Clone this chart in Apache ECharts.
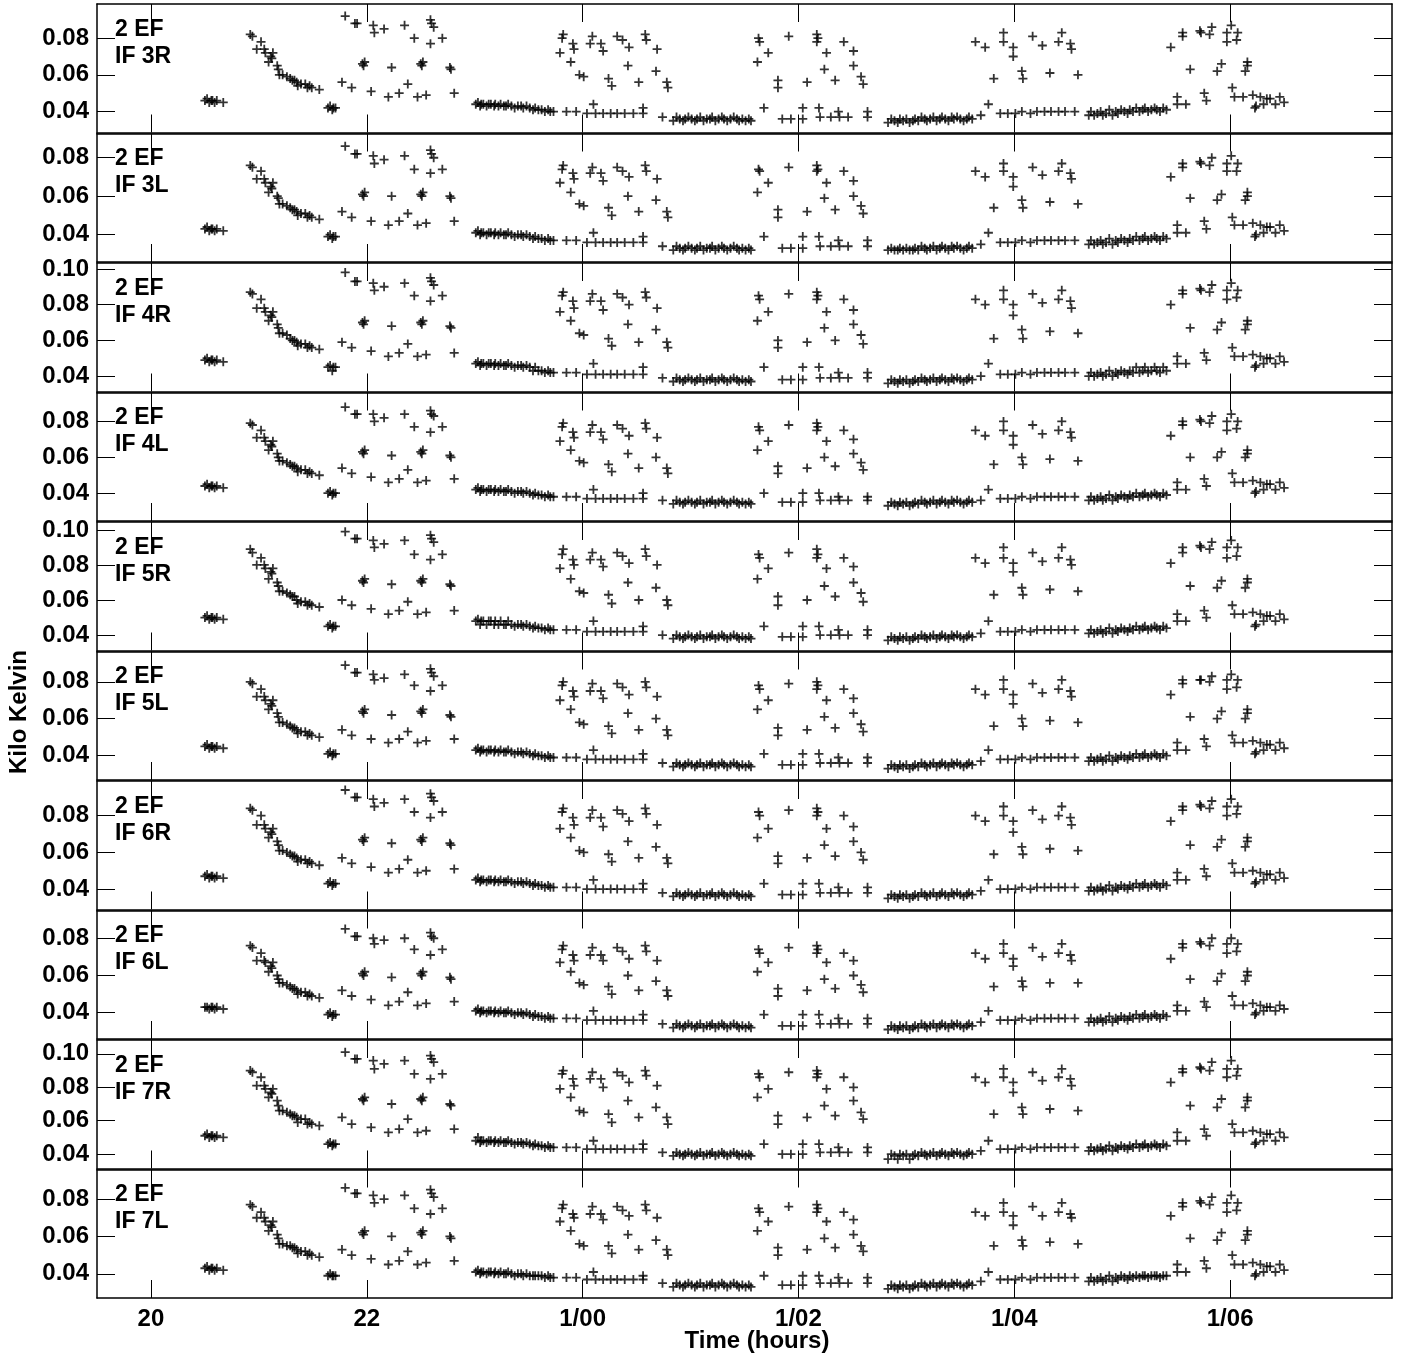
<!DOCTYPE html>
<html>
<head>
<meta charset="utf-8">
<script src="https://cdn.jsdelivr.net/npm/echarts@6/dist/echarts.min.js"></script>
<style>
html,body{margin:0;padding:0;background:#fff;}
#chart{width:1401px;height:1357px;}
</style>
</head>
<body>
<div id="chart"></div>
<script>
// Observation times (hours; 24+ = next day)
const hours = [
20.50,20.52,20.54,20.56,20.57,20.59,20.61,20.67,
20.92,20.94,20.98,21.02,21.05,21.06,21.09,21.11,21.12,21.13,21.17,21.18,21.19,21.22,21.26,21.29,21.31,21.33,21.35,21.36,21.39,21.43,21.45,21.47,21.49,21.56,
21.64,21.66,21.68,21.69,21.71,
21.80,21.89,21.91,22.06,22.07,22.16,22.35,22.44,22.59,22.60,22.62,22.59,22.70,21.96,21.97,21.98,22.23,22.50,22.51,22.52,22.77,22.78,21.77,21.86,22.04,22.20,22.30,22.38,22.47,22.55,22.81,
23.01,23.03,23.05,23.06,23.08,23.11,23.13,23.15,23.18,23.19,23.22,23.24,23.27,23.29,23.31,23.34,23.37,23.40,23.43,23.45,23.48,23.51,23.54,23.56,23.59,23.62,23.65,23.68,23.70,23.73,
23.85,23.94,24.04,24.10,24.12,24.19,24.26,24.32,24.39,24.47,24.56,24.56,
23.82,23.81,23.91,23.92,23.79,23.89,23.97,24.01,24.09,24.07,24.17,24.19,24.24,24.27,24.32,24.37,24.43,24.42,24.52,24.58,24.59,24.69,24.68,24.78,24.79,
24.74,24.84,24.87,24.90,24.93,24.95,24.98,25.01,25.04,25.06,25.09,25.12,25.15,25.18,25.20,25.23,25.26,25.29,25.31,25.34,25.37,25.40,25.43,25.45,25.48,25.51,25.54,25.56,
25.63,25.64,25.72,25.62,25.81,25.81,25.91,26.08,26.17,26.17,26.18,26.26,26.24,26.34,26.42,26.51,26.51,26.58,26.60,
25.68,25.85,25.93,26.04,26.04,26.19,26.20,26.30,26.37,26.38,26.46,26.64,26.64,
26.83,26.86,26.89,26.92,26.94,26.97,27.00,27.03,27.06,27.08,27.11,27.14,27.17,27.19,27.22,27.25,27.28,27.31,27.33,27.36,27.39,27.42,27.44,27.47,27.50,27.53,27.56,27.58,27.61,27.69,27.76,
27.64,27.73,27.90,27.90,27.99,27.99,27.81,28.07,28.08,28.17,28.26,28.33,28.44,28.41,28.52,28.53,28.59,
27.87,27.94,28.01,28.07,28.15,28.21,28.28,28.34,28.41,28.47,28.56,
28.69,28.71,28.74,28.77,28.80,28.82,28.85,28.88,28.91,28.94,28.96,28.99,29.02,29.05,29.07,29.10,29.13,29.16,29.19,29.21,29.24,29.27,29.30,29.32,29.35,29.38,29.41,
29.51,29.51,29.59,29.76,29.78,29.45,29.56,29.56,29.72,29.73,29.83,29.81,30.01,29.97,29.97,30.07,30.06,29.63,29.92,29.88,30.16,30.16,30.14,30.02,30.04,30.12,30.21,30.28,30.24,30.23,30.31,30.37,30.42,30.46,30.50,30.34
];

// Values in Kelvin (axis shows Kilo Kelvin)
const k3R = [
46,47,45,46,46,45,46,45,
82,81,74,78,74,72,67,70,69,72,65,63,60,60,59,58,57,57,56,54,55,55,53,54,53,52,
42,43,41,42,42,
92,88,88,87,83,85,87,80,90,88,86,77,80,66,65,67,64,66,65,67,64,63,56,53,51,48,50,55,48,49,50,
44,45,43,44,44,43,44,44,43,44,43,44,43,43,44,43,42,43,43,42,43,42,41,42,41,41,40,41,40,40,
40,40,39,44,39,39,39,39,39,39,39,42,
82,80,77,74,72,67,60,59,81,77,77,73,58,54,81,79,75,65,56,82,79,74,62,56,53,
37,35,37,36,35,36,37,36,35,36,37,35,36,36,37,35,36,37,36,35,36,37,36,35,36,35,36,35,
80,78,72,67,57,53,81,56,82,78,80,72,63,57,78,73,65,59,55,
42,36,36,36,42,42,37,37,40,37,37,40,37,
34,36,35,34,36,35,36,34,35,36,35,37,36,35,36,37,35,36,37,36,35,37,36,37,36,35,36,37,36,38,44,
78,75,83,78,75,70,58,62,58,81,76,61,83,78,77,74,60,
39,39,39,40,39,40,40,40,40,40,40,
38,40,38,39,40,38,39,41,38,40,39,41,40,39,41,40,42,40,41,42,40,41,42,41,40,42,41,
48,44,44,50,46,75,83,81,84,83,86,82,87,83,78,83,79,63,66,62,67,65,62,53,48,48,49,48,43,42,44,47,44,48,45,47
];
const k3L = [
43,44,42,43,43,42,43,42,
76,75,69,73,69,67,62,65,64,67,60,59,56,56,55,54,53,53,52,50,51,51,49,50,49,48,
39,40,38,39,39,
86,82,82,81,77,79,81,74,84,82,80,72,74,61,60,62,60,61,60,62,60,59,52,49,47,45,47,51,45,46,47,
41,42,40,41,41,40,41,41,40,41,40,41,40,40,41,40,39,40,40,39,40,39,38,39,38,38,37,38,37,37,
37,37,36,41,36,36,36,36,36,36,36,39,
76,74,72,69,67,62,56,55,75,72,72,68,54,50,75,73,70,60,52,76,73,69,58,52,49,
34,32,34,33,32,33,34,33,32,33,34,32,33,33,34,32,33,34,33,32,33,34,33,32,33,32,33,32,
74,73,67,62,53,49,75,52,76,73,74,67,59,53,73,68,60,55,51,
39,33,33,33,39,39,34,34,37,34,34,37,34,
32,33,32,32,33,32,33,32,32,33,32,34,33,32,33,34,32,33,34,33,32,34,33,34,33,32,33,34,33,35,41,
73,70,77,73,70,65,54,58,54,75,71,57,77,73,72,69,56,
36,36,36,37,36,37,37,37,37,37,37,
35,37,35,36,37,35,36,38,35,37,36,38,37,36,38,37,39,37,38,39,37,38,39,38,37,39,38,
45,41,41,47,43,70,77,75,78,77,80,76,81,77,73,77,73,59,61,58,62,60,58,49,45,45,46,45,40,39,41,44,41,45,42,44
];
const k4R = [
49,50,48,49,49,48,49,48,
87,86,78,83,78,76,71,74,73,76,69,67,64,64,63,61,60,60,59,57,58,58,56,57,56,55,
45,46,43,45,45,
98,93,93,92,88,90,92,85,95,93,91,82,85,70,69,71,68,70,69,71,68,67,59,56,54,51,53,58,51,52,53,
47,48,46,47,47,46,47,47,46,47,46,47,46,46,47,46,45,46,46,45,46,45,43,45,43,43,42,43,42,42,
42,42,41,47,41,41,41,41,41,41,41,45,
87,85,82,78,76,71,64,63,86,82,82,77,61,57,86,84,80,69,59,87,84,78,66,59,56,
39,37,39,38,37,38,39,38,37,38,39,37,38,38,39,37,38,39,38,37,38,39,38,37,38,37,38,37,
85,83,76,71,60,56,86,59,87,83,85,76,67,60,83,77,69,63,58,
45,38,38,38,45,45,39,39,42,39,39,42,39,
36,38,37,36,38,37,38,36,37,38,37,39,38,37,38,39,37,38,39,38,37,39,38,39,38,37,38,39,38,40,47,
83,80,88,83,80,74,61,66,61,86,81,65,88,83,82,78,64,
41,41,41,42,41,42,42,42,42,42,42,
40,42,40,41,42,40,41,43,40,42,41,43,42,41,43,42,45,42,43,45,42,43,45,43,42,45,43,
51,47,47,53,49,80,88,86,89,88,91,87,92,88,83,88,84,67,70,66,71,69,66,56,51,51,52,51,46,45,47,50,47,51,48,50
];
const k4L = [
44,45,43,44,44,43,44,43,
79,78,71,75,71,69,64,67,66,69,62,60,58,58,57,56,55,55,54,52,53,53,51,52,51,50,
40,41,39,40,40,
88,84,84,84,80,82,84,77,86,84,83,74,77,63,62,64,61,63,62,64,61,60,54,51,49,46,48,53,46,47,48,
42,43,41,42,42,41,42,42,41,42,41,42,41,41,42,41,40,41,41,40,41,40,39,40,39,39,38,39,38,38,
38,38,37,42,37,37,37,37,37,37,37,40,
79,77,74,71,69,64,58,57,78,74,74,70,56,52,78,76,72,62,54,79,76,71,60,54,51,
36,34,36,35,34,35,36,35,34,35,36,34,35,35,36,34,35,36,35,34,35,36,35,34,35,34,35,34,
77,75,69,64,55,51,78,54,79,75,77,69,60,55,75,70,62,57,53,
40,35,35,35,40,40,36,36,38,36,36,38,36,
33,35,34,33,35,34,35,33,34,35,34,36,35,34,35,36,34,35,36,35,34,36,35,36,35,34,35,36,35,36,42,
75,72,80,75,72,67,56,60,56,78,73,59,80,75,74,71,58,
37,37,37,38,37,38,38,38,38,38,38,
36,38,36,37,38,36,37,39,36,38,37,39,38,37,39,38,40,38,39,40,38,39,40,39,38,40,39,
46,42,42,48,44,72,80,78,81,80,83,79,84,80,75,80,76,60,63,60,64,62,60,51,46,46,47,46,41,40,42,45,42,46,43,45
];
const k5R = [
50,51,49,50,50,49,50,49,
89,87,80,84,80,78,72,76,75,78,70,68,65,65,64,63,62,62,60,58,59,59,57,58,57,56,
45,46,44,45,45,
99,95,95,94,90,92,94,86,97,95,93,83,86,71,70,72,69,71,70,72,69,68,60,57,55,52,54,59,52,53,54,
48,49,46,48,48,46,48,48,46,48,46,48,46,46,48,46,45,46,46,45,46,45,44,45,44,44,43,44,43,43,
43,43,42,48,42,42,42,42,42,42,42,45,
89,86,83,80,78,72,65,64,87,83,83,79,63,58,87,85,81,70,60,89,85,80,67,60,57,
40,38,40,39,38,39,40,39,38,39,40,38,39,39,40,38,39,40,39,38,39,40,39,38,39,38,39,38,
86,84,78,72,62,57,87,60,89,84,86,78,68,62,84,79,70,64,59,
45,39,39,39,45,45,40,40,43,40,40,43,40,
37,39,38,37,39,38,39,37,38,39,38,40,39,38,39,40,38,39,40,39,38,40,39,40,39,38,39,40,39,41,48,
84,81,90,84,81,76,63,67,63,87,82,66,90,84,83,80,65,
42,42,42,43,42,43,43,43,43,43,43,
41,43,41,42,43,41,42,44,41,43,42,44,43,42,44,43,45,43,44,45,43,44,45,44,43,45,44,
52,48,48,54,50,81,90,87,91,90,93,89,94,90,84,90,85,68,71,67,72,70,67,57,52,52,53,52,46,45,48,51,48,52,49,51
];
const k5L = [
45,46,44,45,45,44,45,44,
80,79,72,76,72,70,65,68,67,70,63,61,58,58,57,56,55,55,54,52,53,53,51,52,51,50,
41,42,40,41,41,
89,85,85,84,81,82,84,78,87,85,83,75,78,64,63,65,62,64,63,65,62,61,54,51,49,47,49,53,47,48,49,
43,44,42,43,43,42,43,43,42,43,42,43,42,42,43,42,41,42,42,41,42,41,40,41,40,40,39,40,39,39,
39,39,38,43,38,38,38,38,38,38,38,41,
80,78,75,72,70,65,58,57,79,75,75,71,56,52,79,77,73,63,54,80,77,72,60,54,51,
36,34,36,35,34,35,36,35,34,35,36,34,35,35,36,34,35,36,35,34,35,36,35,34,35,34,35,34,
78,76,70,65,55,51,79,54,80,76,78,70,61,55,76,71,63,57,53,
41,35,35,35,41,41,36,36,39,36,36,39,36,
33,35,34,33,35,34,35,33,34,35,34,36,35,34,35,36,34,35,36,35,34,36,35,36,35,34,35,36,35,37,43,
76,73,81,76,73,68,56,60,56,79,74,59,81,76,75,72,58,
38,38,38,39,38,39,39,39,39,39,39,
37,39,37,38,39,37,38,40,37,39,38,40,39,38,40,39,41,39,40,41,39,40,41,40,39,41,40,
47,43,43,49,45,73,81,79,81,81,83,80,84,81,76,81,77,61,64,60,65,63,60,51,47,47,48,47,42,41,43,46,43,47,44,46
];
const k6R = [
47,48,46,47,47,46,47,46,
84,83,75,80,75,73,68,71,70,73,66,64,61,61,60,59,58,58,57,55,56,56,54,55,54,53,
43,44,42,43,43,
94,90,90,89,85,87,89,82,92,90,88,79,82,67,66,68,65,67,66,68,65,64,57,54,52,49,51,56,49,50,51,
45,46,44,45,45,44,45,45,44,45,44,45,44,44,45,44,43,44,44,43,44,43,42,43,42,42,41,42,41,41,
41,41,40,45,40,40,40,40,40,40,40,43,
84,82,79,75,73,68,61,60,83,79,79,74,59,55,83,81,77,66,57,84,81,75,63,57,54,
38,36,38,37,36,37,38,37,36,37,38,36,37,37,38,36,37,38,37,36,37,38,37,36,37,36,37,36,
82,80,73,68,58,54,83,57,84,80,82,73,64,58,80,74,66,60,56,
43,37,37,37,43,43,38,38,41,38,38,41,38,
35,37,36,35,37,36,37,35,36,37,36,38,37,36,37,38,36,37,38,37,36,38,37,38,37,36,37,38,37,39,45,
80,77,85,80,77,71,59,63,59,83,78,62,85,80,79,75,61,
40,40,40,41,40,41,41,41,41,41,41,
39,41,39,40,41,39,40,42,39,41,40,42,41,40,42,41,43,41,42,43,41,42,43,42,41,43,42,
49,45,45,51,47,77,85,83,86,85,88,84,89,85,80,85,81,64,67,63,68,66,63,54,49,49,50,49,44,43,45,48,45,49,46,48
];
const k6L = [
43,43,42,43,43,42,43,42,
76,75,68,72,68,67,62,65,64,67,60,58,56,56,55,54,53,53,52,50,51,51,49,50,49,48,
39,40,38,39,39,
85,81,81,80,77,79,80,74,83,81,80,71,74,61,60,62,59,61,60,62,59,58,52,49,47,44,46,51,44,45,46,
41,42,40,41,41,40,41,41,40,41,40,41,40,40,41,40,39,40,40,39,40,39,38,39,38,38,37,38,37,37,
37,37,36,41,36,36,36,36,36,36,36,39,
76,74,71,68,67,62,56,55,75,71,71,68,54,50,75,73,69,60,52,76,73,68,57,52,49,
34,32,34,33,32,33,34,33,32,33,34,32,33,33,34,32,33,34,33,32,33,34,33,32,33,32,33,32,
74,72,67,62,53,49,75,52,76,72,74,67,58,53,72,68,60,55,51,
39,33,33,33,39,39,34,34,37,34,34,37,34,
31,33,32,31,33,32,33,31,32,33,32,34,33,32,33,34,32,33,34,33,32,34,33,34,33,32,33,34,33,35,41,
72,69,77,72,69,65,54,57,54,75,70,56,77,72,71,68,56,
36,36,36,37,36,37,37,37,37,37,37,
35,37,35,36,37,35,36,38,35,37,36,38,37,36,38,37,39,37,38,39,37,38,39,38,37,39,38,
44,41,41,46,43,69,77,75,78,77,80,76,80,77,72,77,73,58,61,57,62,60,57,49,44,44,45,44,40,39,41,43,41,44,42,43
];
const k7R = [
51,52,50,51,51,50,51,50,
90,89,81,86,81,79,74,77,76,79,72,69,66,66,65,64,63,63,62,59,61,61,58,59,58,57,
46,47,45,46,46,
101,97,97,96,91,94,96,88,99,97,95,85,88,73,72,74,70,73,72,74,70,69,62,58,56,53,55,61,53,54,55,
48,50,47,48,48,47,48,48,47,48,47,48,47,47,48,47,46,47,47,46,47,46,45,46,45,45,44,45,44,44,
44,44,43,48,43,43,43,43,43,43,43,46,
90,88,85,81,79,74,66,65,89,85,85,80,64,59,89,87,83,72,62,90,87,81,68,62,58,
41,39,41,40,39,40,41,40,39,40,41,39,40,40,41,39,40,41,40,39,40,41,40,39,40,39,40,39,
88,86,79,74,63,58,89,62,90,86,88,79,69,63,86,80,72,65,61,
46,40,40,40,46,46,41,41,44,41,41,44,41,
37,40,39,37,40,39,40,37,39,40,39,41,40,39,40,41,39,40,41,40,39,41,40,41,40,39,40,41,40,42,48,
86,83,91,86,83,77,64,68,64,89,84,67,91,86,85,81,66,
43,43,43,44,43,44,44,44,44,44,44,
42,44,42,43,44,42,43,45,42,44,43,45,44,43,45,44,46,44,45,46,44,45,46,45,44,46,45,
53,48,48,55,51,83,91,89,92,91,95,90,96,91,86,91,87,69,73,68,74,72,68,58,53,53,54,53,47,46,48,52,48,53,50,52
];
const k7L = [
43,44,42,43,43,42,43,42,
77,76,70,73,70,68,63,66,65,68,61,59,56,56,55,55,54,54,53,51,52,52,50,51,50,49,
39,40,39,39,39,
86,83,83,82,78,80,82,75,85,83,81,72,75,62,61,63,60,62,61,63,60,59,53,50,48,45,47,52,45,46,47,
41,42,40,41,41,40,41,41,40,41,40,41,40,40,41,40,39,40,40,39,40,39,39,39,39,39,38,39,38,38,
38,38,37,41,37,37,37,37,37,37,37,39,
77,75,72,70,68,63,56,55,76,72,72,69,55,51,76,74,71,61,53,77,74,70,58,53,50,
35,33,35,34,33,34,35,34,33,34,35,33,34,34,35,33,34,35,34,33,34,35,34,33,34,33,34,33,
75,73,68,63,54,50,76,53,77,73,75,68,59,54,73,69,61,55,52,
39,34,34,34,39,39,35,35,38,35,35,38,35,
32,34,33,32,34,33,34,32,33,34,33,35,34,33,34,35,33,34,35,34,33,35,34,35,34,33,34,35,34,36,41,
73,71,78,73,71,66,55,58,55,76,71,57,78,73,72,70,56,
37,37,37,38,37,38,38,38,38,38,38,
36,38,36,37,38,36,37,39,36,38,37,39,38,37,39,38,39,38,39,39,38,39,39,39,38,39,39,
45,41,41,47,43,71,78,76,79,78,81,77,82,78,73,78,74,59,62,58,63,61,58,50,45,45,46,45,40,39,41,44,41,45,42,44
];

const stationLabel = '2 EF';
const panelNames = ['IF 3R','IF 3L','IF 4R','IF 4L','IF 5R','IF 5L','IF 6R','IF 6L','IF 7R','IF 7L'];
const panelValues = [k3R,k3L,k4R,k4L,k5R,k5L,k6R,k6L,k7R,k7L];
const yMin = [28.6,25.8,31.4,24.5,31.2,26.8,28.9,25.9,31.4,27.1];
const yMax = [98.6,92.6,103.3,96.1,104.5,96.4,98.9,94.9,108.3,95.8];
const yTicks = [[40,60,80],[40,60,80],[40,60,80,100],[40,60,80],[40,60,80,100],[40,60,80],[40,60,80],[40,60,80],[40,60,80,100],[40,60,80]];
const xTickHours = [20,22,24,26,28,30];
const xTickLabels = ['20','22','1/00','1/02','1/04','1/06'];
const xMin = 19.5, xMax = 31.5;

const FONT = '"Liberation Sans", Arial, Helvetica, sans-serif';
const PLUS = 'path://M4,0H6V4H10V6H6V10H4V6H0V4H4Z';

const grids = [], xAxes = [], yAxes = [], series = [], titles = [];
const labelStyle = {fontSize: 24, fontWeight: 'bold', color: '#000', fontFamily: FONT};
for (let i = 0; i < 10; i++) {
  const top = 4 + i * 129.5;
  grids.push({left: 97, width: 1295, top: top, height: 128.5, show: false, containLabel: false, outerBoundsMode: 'none'});
  const xBase = {
    type: 'value', gridIndex: i, min: xMin, max: xMax,
    axisLine: {show: true, onZero: false, lineStyle: {color: '#000', width: 1.5}},
    axisTick: {show: true, inside: true, length: 18, customValues: xTickHours, lineStyle: {color: '#000', width: 1}},
    splitLine: {show: false}
  };
  xAxes.push(Object.assign({}, xBase, {
    position: 'bottom',
    axisLabel: Object.assign({show: i === 9, customValues: xTickHours, margin: 9,
      formatter: v => xTickLabels[xTickHours.indexOf(Math.round(v))] || ''}, labelStyle)
  }));
  xAxes.push(Object.assign({}, xBase, {position: 'top', axisLabel: {show: false}}));
  const yBase = {
    type: 'value', gridIndex: i, min: yMin[i], max: yMax[i],
    axisLine: {show: true, onZero: false, lineStyle: {color: '#000', width: 1.5}},
    axisTick: {show: true, inside: true, length: 18, customValues: yTicks[i], lineStyle: {color: '#000', width: 1}},
    splitLine: {show: false}
  };
  yAxes.push(Object.assign({}, yBase, {
    position: 'left',
    axisLabel: Object.assign({show: true, customValues: yTicks[i], margin: 8,
      formatter: v => (v / 1000).toFixed(2)}, labelStyle)
  }));
  yAxes.push(Object.assign({}, yBase, {position: 'right', axisLabel: {show: false}}));
  const vals = panelValues[i];
  const n = Math.min(hours.length, vals.length);
  if (vals.length !== hours.length) console.error('length mismatch panel', i, vals.length, hours.length);
  const data = [];
  for (let j = 0; j < n; j++) data.push([hours[j], vals[j]]);
  series.push({
    type: 'scatter', xAxisIndex: 2 * i, yAxisIndex: 2 * i,
    symbol: PLUS, symbolSize: 9, itemStyle: {color: '#000'},
    data: data, silent: true, animation: false
  });
  titles.push({
    text: stationLabel + '\n' + panelNames[i], left: 115, top: top + 12, padding: 0,
    textStyle: {fontSize: 23, fontWeight: 'bold', lineHeight: 27, color: '#000', fontFamily: FONT}
  });
}

const chart = echarts.init(document.getElementById('chart'), null, {renderer: 'canvas'});
chart.setOption({
  backgroundColor: '#fff',
  animation: false,
  title: titles,
  grid: grids,
  xAxis: xAxes,
  yAxis: yAxes,
  series: series,
  graphic: [
    {type: 'text', x: 757, y: 1341, style: {text: 'Time (hours)', align: 'center', verticalAlign: 'middle', font: 'bold 24px ' + FONT, fill: '#000'}},
    {type: 'text', x: 19, y: 712, rotation: Math.PI / 2, style: {text: 'Kilo Kelvin', align: 'center', verticalAlign: 'middle', font: 'bold 24px ' + FONT, fill: '#000'}}
  ]
});
</script>
</body>
</html>
